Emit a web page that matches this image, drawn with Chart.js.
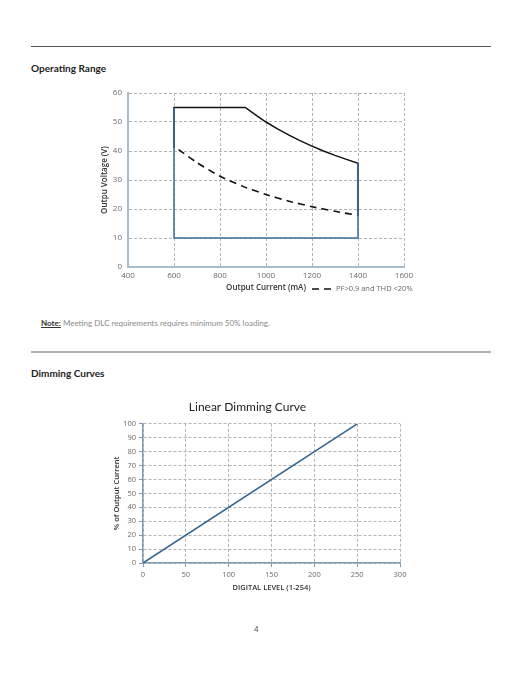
<!DOCTYPE html>
<html>
<head>
<meta charset="utf-8">
<script src="https://cdn.jsdelivr.net/npm/chart.js@4.4.1/dist/chart.umd.min.js"></script>
<style>
  html, body { margin:0; padding:0; background:#fff; }
  body { width:522px; height:676px; position:relative; overflow:hidden; font-family: Lato, "Open Sans", sans-serif; }
  .abs { position:absolute; white-space:nowrap; }
  .rule1 { position:absolute; left:31px; top:46px; width:460px; height:1px; background:#555; }
  .rule2 { position:absolute; left:31px; top:351px; width:460px; height:2px; background:#b0b0b0; }
  .sec { font-weight:700; font-size:10px; line-height:12px; color:#222; }
  .note { font-size:8px; line-height:10px; color:#8a8a8a; }
  .note b { color:#333; text-decoration:underline; }
  canvas { position:absolute; }
  .leg { font-size:7.5px; line-height:10px; color:#666; font-family:"Open Sans", sans-serif; }
</style>
</head>
<body>
<div class="rule1"></div>
<div class="abs sec" style="left:31px; top:62px;">Operating Range</div>
<canvas id="c1" width="350" height="220" style="left:90px; top:80px;"></canvas>
<div class="abs leg" style="left:312px; top:283px;"><svg width="22" height="6" style="vertical-align:middle; margin-right:2px;"><line x1="0" y1="3" x2="22" y2="3" stroke="#111" stroke-width="1.6" stroke-dasharray="7,5"/></svg>PF&gt;0.9 and THD &lt;20%</div>
<div class="abs note" style="left:41px; top:318px;"><b>Note:</b> Meeting DLC requirements requires minimum 50% loading.</div>
<div class="rule2"></div>
<div class="abs sec" style="left:31px; top:367px;">Dimming Curves</div>
<canvas id="c2" width="326" height="215" style="left:95px; top:390px;"></canvas>
<div class="abs" style="left:254px; top:624px; font-size:8px; color:#555;">4</div>

<script>
// ---- Operating Range data ----
const rangeX = [600, 600, 1400, 1400];
const rangeY = [55, 10, 10, 36];
const maxX = [600, 600, 910, 950, 1000, 1050, 1100, 1150, 1200, 1250, 1300, 1350, 1400, 1400];
const maxY = [41, 55, 55, 52.7, 50, 47.6, 45.5, 43.5, 41.7, 40, 38.5, 37.1, 35.8, 18];
const pfX = [620, 700, 800, 900, 1000, 1100, 1200, 1300, 1400];
const pfY = [40.5, 36, 31.3, 27.8, 25, 22.7, 20.8, 19.2, 17.8];
const currentTicks = [400, 600, 800, 1000, 1200, 1400, 1600];
const voltageTicks = [0, 10, 20, 30, 40, 50, 60];

// ---- Dimming curve data ----
const digitalLevel = [0, 250];
const outputPct = [0, 100];
const levelTicks = [0, 50, 100, 150, 200, 250, 300];
const pctTicks = [0, 10, 20, 30, 40, 50, 60, 70, 80, 90, 100];

const pts = (xs, ys) => xs.map((x, i) => ({x: x, y: ys[i]}));

Chart.defaults.font.family = '"Open Sans", sans-serif';
Chart.defaults.animation = false;

const gridCol = '#b4b4b4';
const gridDash = [3, 2];

new Chart(document.getElementById('c1'), {
  type: 'line',
  data: {
    datasets: [
      { label: 'Range', data: pts(rangeX, rangeY), borderColor: '#3a6c98', borderWidth: 1.5, pointRadius: 0, tension: 0, fill: false },
      { label: 'Max', data: pts(maxX, maxY), borderColor: '#111', borderWidth: 1.5, pointRadius: 0, tension: 0, fill: false },
      { label: 'PF>0.9 and THD <20%', data: pts(pfX, pfY), borderColor: '#111', borderWidth: 1.6, borderDash: [7, 5], pointRadius: 0, tension: 0.2, fill: false }
    ]
  },
  options: {
    responsive: false,
    devicePixelRatio: 1,
    layout: { padding: { top: 13, right: 36, bottom: 0, left: 0 } },
    plugins: { legend: { display: false }, tooltip: { enabled: false } },
    scales: {
      x: {
        type: 'linear', min: 400, max: 1600,
        afterBuildTicks: s => { s.ticks = currentTicks.map(v => ({value: v})); },
        afterFit: s => { s.height = 33; },
        ticks: { color: '#6a6a6a', font: { size: 8 }, padding: 4, callback: v => String(v) },
        grid: { color: gridCol, lineWidth: 1, drawTicks: false },
        border: { display: true, color: '#a9bccd', width: 2, dash: gridDash },
        title: { display: true, text: 'Output Current (mA)', color: '#333', font: { size: 8, weight: '600' }, padding: { top: 0, bottom: 7 } }
      },
      y: {
        min: 0, max: 60,
        afterBuildTicks: s => { s.ticks = voltageTicks.map(v => ({value: v})); },
        afterFit: s => { s.width = 38; },
        ticks: { color: '#6a6a6a', font: { size: 8 }, padding: 6 },
        grid: { color: gridCol, lineWidth: 1, drawTicks: false },
        border: { display: true, color: '#a9bccd', width: 2, dash: gridDash },
        title: { display: true, text: 'Outpu Voltage (V)', color: '#333', font: { size: 8, weight: '600' }, padding: { top: 10, bottom: 0 } }
      }
    }
  }
});

new Chart(document.getElementById('c2'), {
  type: 'line',
  data: {
    datasets: [
      { label: 'Linear', data: pts(digitalLevel, outputPct), borderColor: '#33658f', borderWidth: 1.6, pointRadius: 0, tension: 0, fill: false }
    ]
  },
  options: {
    responsive: false,
    devicePixelRatio: 1,
    layout: { padding: { top: 0, right: 21, bottom: 0, left: 0 } },
    plugins: {
      legend: { display: false }, tooltip: { enabled: false },
      title: { display: true, text: 'Linear Dimming Curve', color: '#222', font: { family: 'Lato', size: 12, weight: '400' }, padding: { top: 10, bottom: 9.4 } }
    },
    scales: {
      x: {
        type: 'linear', min: 0, max: 300,
        afterBuildTicks: s => { s.ticks = levelTicks.map(v => ({value: v})); },
        afterFit: s => { s.height = 42; },
        ticks: { color: '#6a6a6a', font: { size: 7.5 }, padding: 3 },
        grid: { color: gridCol, lineWidth: 1, drawTicks: true, tickLength: 4, tickColor: '#7f9bb4', tickBorderDash: [] },
        border: { display: true, color: '#7f9bb4', width: 1.5, dash: gridDash },
        title: { display: true, text: 'DIGITAL LEVEL (1-254)', color: '#333', font: { size: 7.5, weight: '600' }, padding: { top: 0, bottom: 13 } }
      },
      y: {
        min: 0, max: 100,
        afterBuildTicks: s => { s.ticks = pctTicks.map(v => ({value: v})); },
        afterFit: s => { s.width = 48; },
        ticks: { color: '#6a6a6a', font: { size: 7.5 }, padding: 3 },
        grid: { color: gridCol, lineWidth: 1, drawTicks: true, tickLength: 4, tickColor: '#7f9bb4', tickBorderDash: [] },
        border: { display: true, color: '#7f9bb4', width: 1.5, dash: gridDash },
        title: { display: true, text: '% of Output Current', color: '#333', font: { size: 7.5, weight: '600' }, padding: { top: 17, bottom: 0 } }
      }
    }
  }
});
</script>
</body>
</html>
